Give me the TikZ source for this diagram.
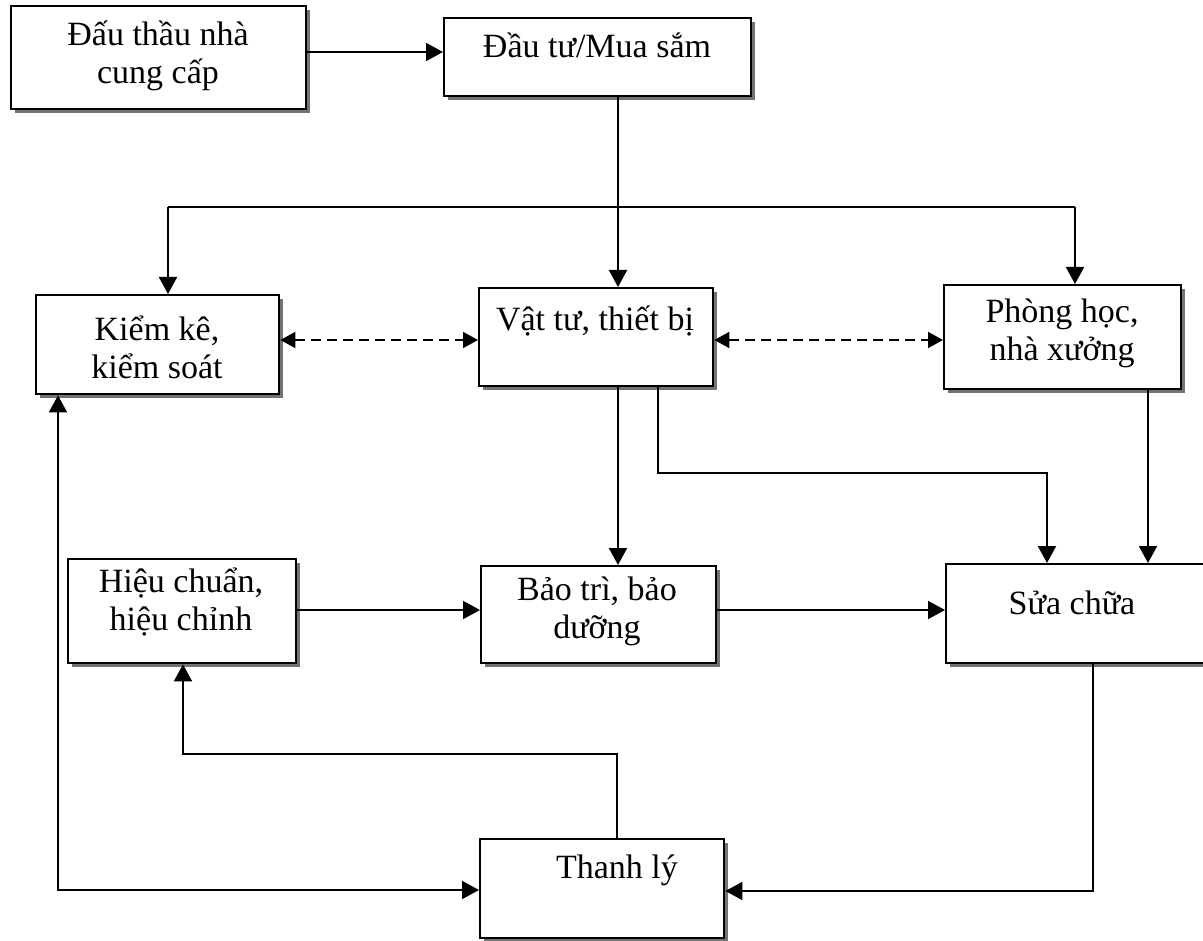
\documentclass[tikz,border=0pt]{standalone}
\usepackage{fontspec}
\setmainfont{Liberation Serif}
\usetikzlibrary{arrows.meta,shadows,calc}
\begin{document}
\begin{tikzpicture}[x=1pt,y=-1pt,
  box/.style={draw, line width=2.4pt, fill=white, anchor=north west, inner sep=0pt,
    drop shadow={shadow xshift=4pt,shadow yshift=-4pt,fill=black!55,opacity=1}},
  lbl/.style={align=center, font=\fontsize{34}{38}\selectfont, inner sep=0pt},
  link/.style={line width=2pt, -{Triangle[length=17pt,width=18pt]}},
  twoway/.style={line width=2pt, {Triangle[length=17pt,width=18pt]}-{Triangle[length=17pt,width=18pt]}},
  plain/.style={line width=2pt},
  dash2/.style={line width=2pt, {Triangle[length=15pt,width=16pt]}-{Triangle[length=15pt,width=16pt]}, dash pattern=on 10pt off 6pt}
]
\useasboundingbox (0,0) rectangle (1203,941);

% boxes
\node[box, minimum width=295pt, minimum height=103pt] (A) at (10,5) {};
\node[box, minimum width=307pt, minimum height=78pt] (B) at (443,17) {};
\node[box, minimum width=243pt, minimum height=99pt] (K) at (35,294) {};
\node[box, minimum width=234pt, minimum height=98pt] (V) at (478,287) {};
\node[box, minimum width=237pt, minimum height=104pt] (P) at (943,284) {};
\node[box, minimum width=228pt, minimum height=104pt] (H) at (67,558) {};
\node[box, minimum width=235pt, minimum height=97pt] (BT) at (480,565) {};
\node[box, minimum width=258pt, minimum height=99pt] (S) at (945,563) {};
\node[box, minimum width=244pt, minimum height=99pt] (T) at (479,838) {};

% labels
\node[lbl] (tA) at (158,56) {Đấu thầu nhà\\cung cấp};
\node[lbl] (tB) at (597,45) {Đầu tư/Mua sắm};
\node[lbl] (tK) at (157,347) {Kiểm kê,\\kiểm soát};
\node[lbl] (tV) at (595,321) {Vật tư, thiết bị};
\node[lbl] (tP) at (1062,333) {Phòng học,\\nhà xưởng};
\node[lbl] (tH) at (181,602) {Hiệu chuẩn,\\hiệu chỉnh};
\node[lbl] (tBT) at (597,611) {Bảo trì, bảo\\dưỡng};
\node[lbl] (tS) at (1072,603) {Sửa chữa};
\node[lbl] (tT) at (617,870) {Thanh lý};

% junction points
\coordinate (jL) at (168,207);
\coordinate (jR) at (1075,207);
\coordinate (vB) at (658,473);
\coordinate (sB) at (1093,891);
\coordinate (tB2) at (617,754);
\coordinate (kB) at (58,890);

% connectors
\draw[link] (A.east |- 0,52) -- (B.west |- 0,52);
\draw[link] (B.south -| 618,0) -- (V.north -| 618,0);
\draw[plain] (jL) -- (jR);
\draw[link] (jL) -- (jL |- K.north);
\draw[link] (jR) -- (jR |- P.north);
\draw[dash2] (K.east |- 0,340) -- (V.west |- 0,340);
\draw[dash2] (V.east |- 0,340) -- (P.west |- 0,340);
\draw[link] (V.south -| 618,0) -- (BT.north -| 618,0);
\draw[link] (V.south -| vB) -- (vB) -| (S.north -| 1047,0);
\draw[link] (P.south -| 1148,0) -- (S.north -| 1148,0);
\draw[link] (H.east |- 0,610) -- (BT.west |- 0,610);
\draw[link] (BT.east |- 0,610) -- (S.west |- 0,610);
\draw[link] (S.south -| sB) -- (sB) -- (T.east |- sB);
\draw[link] (T.north -| tB2) -- (tB2) -| (H.south -| 183,0);
\draw[twoway] (K.south -| kB) -- (kB) -- (T.west |- kB);
\end{tikzpicture}
\end{document}
